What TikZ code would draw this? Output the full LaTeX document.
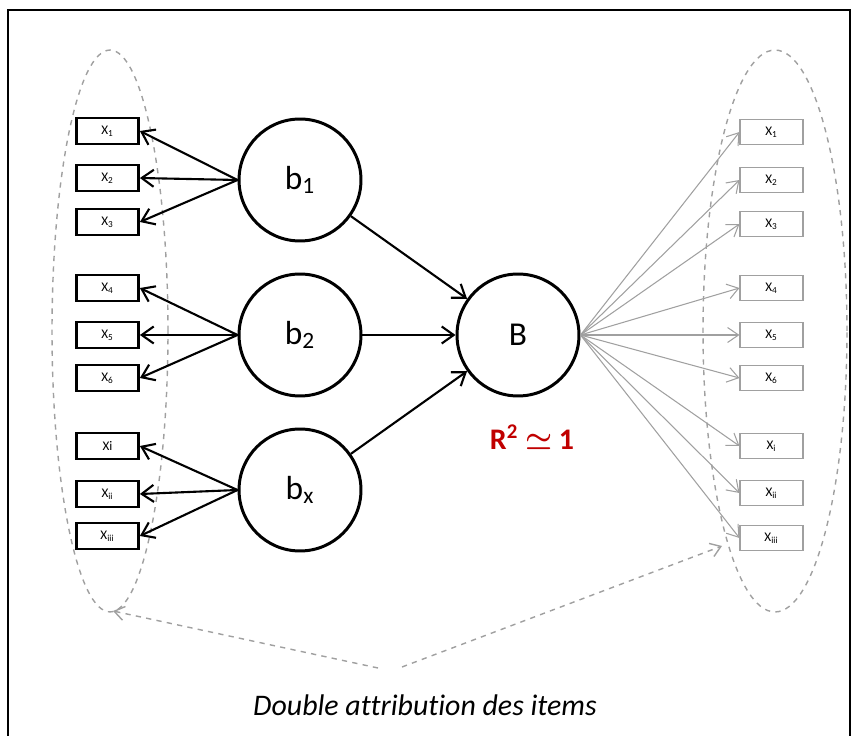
\documentclass[tikz,border=0pt]{standalone}
\usepackage{fontspec}
\setmainfont{Carlito}[Ligatures=NoCommon]
\usepackage{xcolor}
\definecolor{rsqred}{HTML}{C00000}
\definecolor{itemgrey}{HTML}{A0A0A0}
\usetikzlibrary{arrows.meta, positioning, calc}

\begin{document}
\begin{tikzpicture}[x=0.02cm, y=-0.02cm,
        latent/.style={draw, circle, line width=1.7pt, minimum size=2.44cm, inner sep=0pt, font=\fontsize{19}{22}\selectfont},
        leftitem/.style={draw, line width=1.6pt, minimum width=1.24cm, minimum height=0.52cm, inner sep=0pt, font=\fontsize{7.5}{8}\selectfont},
        rightitem/.style={draw=itemgrey, line width=0.6pt, minimum width=1.26cm, minimum height=0.5cm, inner sep=0pt, font=\fontsize{7.5}{8}\selectfont},
        load/.style={-{Straight Barb[length=2.4mm, width=3.4mm]}, line width=1.2pt},
        reload/.style={-{Straight Barb[length=2.2mm, width=3mm]}, draw=itemgrey, line width=0.6pt},
        hint/.style={-{Straight Barb[length=2mm, width=2.8mm]}, draw=itemgrey, dashed, line width=0.8pt}]
        \useasboundingbox (0,0) rectangle (856,736);

        % Outer frame
        \draw[line width=1.3pt] (8,10) rectangle (850,760);

        % Dashed groups of items
        \draw[itemgrey, dashed, line width=0.8pt] (110,331) ellipse [x radius=1.16cm, y radius=5.62cm];
        \draw[itemgrey, dashed, line width=0.8pt] (775,331) ellipse [x radius=1.44cm, y radius=5.62cm];

        % Latent variables
        \node[latent] (b1) at (300,180) {b\textsubscript{1}};
        \node[latent] (b2) at (300,335) {b\textsubscript{2}};
        \node[latent] (bx) at (300,490) {b\textsubscript{x}};
        \node[latent] (B) at (518,335) {B};
        \node[text=rsqred, font=\bfseries\fontsize{17}{20}\selectfont] (rsq) at (532,437) {R\textsuperscript{2} {\boldmath$\simeq$} 1};

        % Left items
        \node[leftitem] (l1) at (107.5,131) {X\textsubscript{1}};
        \node[leftitem] (l2) at (107.5,178) {X\textsubscript{2}};
        \node[leftitem] (l3) at (107.5,222) {X\textsubscript{3}};
        \node[leftitem] (l4) at (107.5,288) {X\textsubscript{4}};
        \node[leftitem] (l5) at (107.5,335) {X\textsubscript{5}};
        \node[leftitem] (l6) at (107.5,378) {X\textsubscript{6}};
        \node[leftitem] (l7) at (107.5,446) {Xi};
        \node[leftitem] (l8) at (107.5,494) {X\textsubscript{ii}};
        \node[leftitem] (l9) at (107.5,536) {X\textsubscript{iii}};

        % Right items
        \node[rightitem] (r1) at (771.5,132) {X\textsubscript{1}};
        \node[rightitem] (r2) at (771.5,180) {X\textsubscript{2}};
        \node[rightitem] (r3) at (771.5,224) {X\textsubscript{3}};
        \node[rightitem] (r4) at (771.5,288) {X\textsubscript{4}};
        \node[rightitem] (r5) at (771.5,335) {X\textsubscript{5}};
        \node[rightitem] (r6) at (771.5,378) {X\textsubscript{6}};
        \node[rightitem] (r7) at (771.5,446) {X\textsubscript{i}};
        \node[rightitem] (r8) at (771.5,493) {X\textsubscript{ii}};
        \node[rightitem] (r9) at (771.5,538) {X\textsubscript{iii}};

        % Loadings of the sub-factors
        \draw[load] (b1.west) -- (l1.east);
        \draw[load] (b1.west) -- (l2.east);
        \draw[load] (b1.west) -- (l3.east);
        \draw[load] (b2.west) -- (l4.east);
        \draw[load] (b2.west) -- (l5.east);
        \draw[load] (b2.west) -- (l6.east);
        \draw[load] (bx.west) -- (l7.east);
        \draw[load] (bx.west) -- (l8.east);
        \draw[load] (bx.west) -- (l9.east);

        % Sub-factors into B
        \draw[load] (b1) -- (B);
        \draw[load] (b2) -- (B);
        \draw[load] (bx) -- (B);

        % Loadings of B
        \draw[reload] (B.east) -- (r1.west);
        \draw[reload] (B.east) -- (r2.west);
        \draw[reload] (B.east) -- (r3.west);
        \draw[reload] (B.east) -- (r4.west);
        \draw[reload] (B.east) -- (r5.west);
        \draw[reload] (B.east) -- (r6.west);
        \draw[reload] (B.east) -- (r7.west);
        \draw[reload] (B.east) -- (r8.west);
        \draw[reload] (B.east) -- (r9.west);

        % Caption
        \node[font=\itshape\fontsize{17}{20}\selectfont] (caption) at (425,705) {Double attribution des items};
        \coordinate (tailL) at (378,668);
        \coordinate (tailR) at (402,667);
        \coordinate (tipL) at (113,611);
        \coordinate (tipR) at (722,546);
        \draw[hint] (tailL) -- (tipL);
        \draw[hint] (tailR) -- (tipR);
\end{tikzpicture}
\end{document}
